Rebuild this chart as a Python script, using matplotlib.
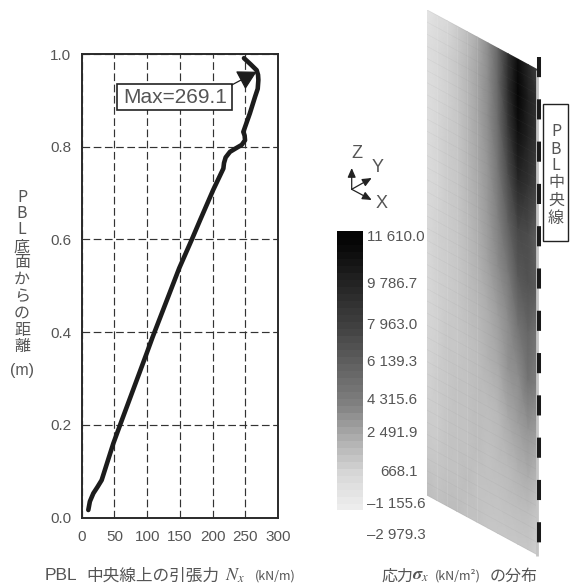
import numpy as np
import matplotlib
matplotlib.use("Agg")
import matplotlib.pyplot as plt
from matplotlib.colors import LinearSegmentedColormap, Normalize

CJK = ['Noto Sans CJK JP', 'DejaVu Sans']
LATIN = ['Liberation Sans', 'DejaVu Sans']
plt.rcParams['font.family'] = LATIN
plt.rcParams['mathtext.fontset'] = 'stix'
TXT = '#555555'

# Left chart: tensile force along the PBL centre line
force_kn_m = [10.1, 12.5, 17.8, 24, 30.5, 48.3, 59.6, 99.3, 108.5, 149, 168, 181, 201, 216.5, 217.5, 220, 226.6, 236, 244.5,
              249.6, 249, 247, 252, 257, 265, 269, 270, 269.5, 267.4, 258, 248]
height_m = [0.0166, 0.035, 0.0526, 0.066, 0.081, 0.160, 0.2036, 0.3545, 0.390, 0.538, 0.599, 0.642, 0.707, 0.753, 0.765, 0.777, 0.789, 0.797, 0.804,
            0.814, 0.824, 0.832, 0.852, 0.872, 0.908, 0.925, 0.944, 0.955, 0.965, 0.978, 0.991]
x_ticks = [0, 50, 100, 150, 200, 250, 300]
y_ticks = [0.0, 0.2, 0.4, 0.6, 0.8, 1.0]

# Colour scale
scale_values = [11610.0, 9786.7, 7963.0, 6139.3, 4315.6, 2491.9, 668.1, -1155.6, -2979.3]
scale_labels = ['11 610.0', '9 786.7', '7 963.0', '6 139.3', '4 315.6', '2 491.9', '668.1', '–1 155.6', '–2 979.3']
scale_grays = [0.02, 0.15, 0.26, 0.38, 0.50, 0.67, 0.85, 0.93, 1.0]
scale_label_y = [237, 284, 325, 362, 400, 433, 472, 504, 535]
scale_label_x = [367, 367, 367, 367, 367, 367, 380, 367, 367]

# Stress over the plate, top row first
plate_x = [0, 0.09, 0.18, 0.27, 0.36, 0.45, 0.55, 0.64, 0.73, 0.82, 0.91, 1.0]
plate_h = [1.0, 0.93, 0.85, 0.75, 0.65, 0.55, 0.45, 0.35, 0.25, 0.15, 0.08, 0.0]
stress = [
    [-470, 300, 668, 1175, 1680, 2390, 3780, 5835, 8960, 11190, 9786, 8130],
    [200, 668, 970, 1380, 1985, 2705, 3780, 5835, 9290, 11610, 10200, 8960],
    [200, 668, 970, 1380, 1985, 2705, 3780, 5530, 8630, 11050, 9930, 8630],
    [300, 770, 1175, 1380, 1985, 2600, 3450, 4920, 7350, 9786, 8960, 7660],
    [450, 770, 1175, 1380, 1880, 2390, 3240, 4315, 6139, 7660, 7350, 6139],
    [668, 970, 1175, 1380, 1780, 2185, 2920, 3780, 4770, 6600, 7000, 6450],
    [668, 970, 1175, 1380, 1680, 1985, 2390, 3025, 3780, 5075, 5835, 4920],
    [770, 970, 1380, 1380, 1580, 1780, 2185, 2600, 3450, 3780, 5075, 4315],
    [870, 1175, 1380, 1580, 1580, 1780, 1780, 1985, 2600, 3025, 3450, 3025],
    [1175, 1175, 1480, 1580, 1580, 1780, 1580, 1780, 1880, 2185, 2390, 1980],
    [1380, 1380, 1580, 1580, 1780, 1580, 1580, 1580, 1680, 1780, 1780, 1400],
    [1780, 1580, 1780, 1780, 1580, 1580, 1380, 1380, 1380, 1380, 1380, 970],
]

W, H = 576, 584
fig = plt.figure(figsize=(W / 100, H / 100), dpi=100, facecolor='white')


def px_axes(x0, y0, x1, y1, **kw):
    return fig.add_axes([x0 / W, 1 - y1 / H, (x1 - x0) / W, (y1 - y0) / H], **kw)


# ---------- Line chart ----------
ax = px_axes(81.7, 54, 278, 517.7)
ax.set_xlim(0, 300)
ax.set_ylim(0, 1.0)
ax.set_xticks(x_ticks)
ax.set_yticks(y_ticks)
ax.set_yticklabels([f'{v:.1f}' for v in y_ticks])
ax.tick_params(length=0, labelsize=11, labelcolor=TXT)
ax.tick_params(axis='x', pad=8.5)
ax.tick_params(axis='y', pad=7.5)
ax.grid(True, color='#333333', lw=0.85, dashes=(6.5, 3))
ax.set_axisbelow(True)
for s in ax.spines.values():
    s.set_linewidth(1.4)
    s.set_color('#2a2a2a')
ax.plot(force_kn_m, height_m, color='#1c1c1c', lw=3.3, solid_capstyle='round', solid_joinstyle='round')

# ---------- Shared colour map ----------
order = np.argsort(scale_values)
nvals = np.array(scale_values)[order]
ngray = np.array(scale_grays)[order]
norm = Normalize(vmin=nvals[0], vmax=nvals[-1])
cmap = LinearSegmentedColormap.from_list(
    'stress', [(norm(v), (g, g, g)) for v, g in zip(nvals, ngray)], N=512)

# ---------- Plate ----------
plate_ax = px_axes(427, 10, 538, 555)
shear = 60 / 485
plate_ax.set_xlim(0, 1)
plate_ax.set_ylim(0, 1 + shear)
plate_ax.axis('off')
PX, PH = np.meshgrid(plate_x, plate_h)
plate_ax.pcolormesh(PX, PH + (1 - PX) * shear, np.array(stress, dtype=float),
                    cmap=cmap, norm=norm, shading='gouraud', rasterized=True)
# faint finite-element mesh
for xv in plate_x[1:6]:
    plate_ax.plot([xv, xv], [(1 - xv) * shear, 1 + (1 - xv) * shear], color='white', lw=0.6, alpha=0.12)
for hv in np.linspace(0, 1, 41):
    plate_ax.plot([0, 1], [hv + shear, hv], color='#777777', lw=0.4, alpha=0.10)

# ---------- Overlay in pixel coordinates ----------
ov = fig.add_axes([0, 0, 1, 1], facecolor='none')
ov.set_xlim(0, W)
ov.set_ylim(H, 0)
ov.axis('off')

# Max callout
ov.add_patch(plt.Rectangle((117.3, 84.3), 114.4, 25.7, fc='white', ec='#222222', lw=1.2))
ov.text(175, 97.5, 'Max=269.1', fontsize=15, color=TXT, ha='center', va='center')
ov.annotate('', xy=(256.7, 71.7), xytext=(231.7, 85),
            arrowprops=dict(arrowstyle='-|>,head_width=0.5,head_length=0.9', color='#1c1c1c', lw=0.9,
                            shrinkA=0, shrinkB=0, mutation_scale=13))

# right edge strip and centre line
ov.plot([537, 537], [70, 556], color='#c4c4c4', lw=2, solid_capstyle='butt')
ov.plot([539, 539], [57, 556], color='#1a1a1a', lw=2.9, dashes=(5, 5.5), dash_capstyle='butt')
ov.add_patch(plt.Rectangle((543, 103.5), 25, 137, fc='white', ec='#222222', lw=1))
for ch, y in zip('PBL中央線', [132, 149, 166, 182, 200, 218]):
    ov.text(556, y, ch, family=CJK, fontsize=11.5, color=TXT, ha='center', va='center')

# colour scale
cb_y = np.arange(231, 514, 7.0)
cb_val = np.interp(cb_y, scale_label_y, scale_values)
cb_ax = px_axes(337, 231, 363, 510)
cb_ax.set_xlim(0, 1)
cb_ax.set_ylim(510, 231)
cb_ax.axis('off')
cb_ax.pcolormesh([0, 1], cb_y, cb_val[:-1].reshape(-1, 1), cmap=cmap, norm=norm)
for lab, x, y in zip(scale_labels, scale_label_x, scale_label_y):
    ov.text(x, y, lab, fontsize=10.8, color=TXT, ha='left', va='center')

# axis triad
origin = (351.7, 189.3)
for tip in [(351.7, 168), (371.7, 178), (371.7, 200)]:
    ov.annotate('', xy=tip, xytext=origin,
                arrowprops=dict(arrowstyle='-|>,head_width=0.22,head_length=0.5', color='#222222',
                                lw=0.9, shrinkA=0, shrinkB=0, mutation_scale=11))
for lab, x, y in [('Z', 356.5, 153), ('Y', 378, 167), ('X', 381.5, 204)]:
    ov.text(x, y, lab, fontsize=13, color=TXT, ha='center', va='center')

# y-axis label (stacked)
for ch, y in zip('PBL底面からの距離', [197, 213, 230, 247, 263, 279, 296, 313, 330, 346]):
    ov.text(22, y, ch, family=CJK, fontsize=11.5, color=TXT, ha='center', va='center')
ov.text(22, 371, '(m)', fontsize=11.5, color=TXT, ha='center', va='center')

# x labels
ov.text(45, 576, 'PBL', fontsize=12.5, color=TXT, ha='left', va='center')
ov.text(86, 576, '中央線上の引張力', family=CJK, fontsize=12, color=TXT, ha='left', va='center')
ov.text(225, 576, r'$N_x$', fontsize=13, color=TXT, ha='left', va='center')
ov.text(255, 576, '(kN/m)', family=CJK, fontsize=9, color=TXT, ha='left', va='center')
ov.text(381, 576, '応力', family=CJK, fontsize=11.5, color=TXT, ha='left', va='center')
ov.text(412, 576, r'$\boldsymbol{\sigma}_x$', fontsize=13, color=TXT, ha='left', va='center')
ov.text(435, 576, '(kN/m²)', family=CJK, fontsize=9, color=TXT, ha='left', va='center')
ov.text(490, 576, 'の分布', family=CJK, fontsize=11.5, color=TXT, ha='left', va='center')

fig.savefig('out.png', dpi=100)
